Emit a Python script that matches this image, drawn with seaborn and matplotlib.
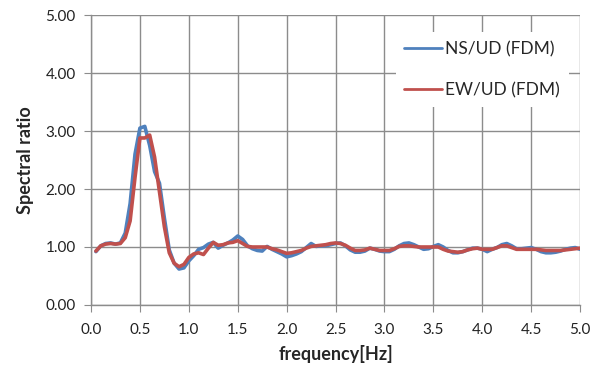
import pandas as pd
import seaborn as sns
import matplotlib.pyplot as plt

freq = [0.05, 0.10, 0.15, 0.20, 0.25, 0.30, 0.35, 0.40, 0.45, 0.50,
        0.55, 0.60, 0.65, 0.70, 0.75, 0.80, 0.85, 0.90, 0.95, 1.00,
        1.05, 1.10, 1.15, 1.20, 1.25, 1.30, 1.35, 1.40, 1.45, 1.50,
        1.55, 1.60, 1.65, 1.70, 1.75, 1.80, 1.85, 1.90, 1.95, 2.00,
        2.05, 2.10, 2.15, 2.20, 2.25, 2.30, 2.35, 2.40, 2.45, 2.50,
        2.55, 2.60, 2.65, 2.70, 2.75, 2.80, 2.85, 2.90, 2.95, 3.00,
        3.05, 3.10, 3.15, 3.20, 3.25, 3.30, 3.35, 3.40, 3.45, 3.50,
        3.55, 3.60, 3.65, 3.70, 3.75, 3.80, 3.85, 3.90, 3.95, 4.00,
        4.05, 4.10, 4.15, 4.20, 4.25, 4.30, 4.35, 4.40, 4.45, 4.50,
        4.55, 4.60, 4.65, 4.70, 4.75, 4.80, 4.85, 4.90, 4.95, 5.00]

ns_ud = [0.92, 1.02, 1.06, 1.07, 1.05, 1.07, 1.24, 1.75, 2.60, 3.05,
         3.08, 2.75, 2.30, 2.10, 1.50, 0.95, 0.72, 0.62, 0.64, 0.76,
         0.85, 0.96, 0.99, 1.05, 1.08, 0.98, 1.03, 1.07, 1.12, 1.19,
         1.13, 1.02, 0.97, 0.94, 0.93, 1.01, 0.96, 0.92, 0.88, 0.83,
         0.85, 0.88, 0.92, 0.99, 1.06, 1.01, 1.02, 1.02, 1.04, 1.06,
         1.07, 1.02, 0.95, 0.91, 0.91, 0.93, 0.98, 0.96, 0.93, 0.92,
         0.92, 0.96, 1.02, 1.06, 1.07, 1.04, 1.00, 0.96, 0.97, 1.01,
         1.04, 1.00, 0.94, 0.90, 0.90, 0.92, 0.95, 0.98, 0.98, 0.96,
         0.92, 0.96, 0.99, 1.04, 1.06, 1.02, 0.97, 0.97, 0.98, 0.99,
         0.96, 0.92, 0.90, 0.90, 0.91, 0.93, 0.96, 0.98, 0.99, 0.96]

ew_ud = [0.93, 1.02, 1.05, 1.06, 1.05, 1.06, 1.16, 1.45, 2.20, 2.88,
         2.88, 2.93, 2.55, 1.95, 1.35, 0.90, 0.72, 0.66, 0.70, 0.82,
         0.88, 0.90, 0.87, 0.98, 1.08, 1.03, 1.04, 1.07, 1.08, 1.11,
         1.06, 1.01, 1.00, 1.00, 1.00, 1.00, 0.97, 0.95, 0.92, 0.89,
         0.90, 0.92, 0.94, 0.98, 1.01, 1.02, 1.03, 1.04, 1.06, 1.07,
         1.06, 1.03, 0.98, 0.94, 0.94, 0.95, 0.98, 0.96, 0.94, 0.94,
         0.94, 0.97, 1.01, 1.02, 1.02, 1.01, 1.00, 1.00, 1.00, 1.00,
         1.00, 0.96, 0.93, 0.92, 0.91, 0.92, 0.95, 0.97, 0.98, 0.96,
         0.96, 0.96, 0.99, 1.02, 1.02, 0.99, 0.96, 0.96, 0.96, 0.96,
         0.96, 0.95, 0.94, 0.94, 0.94, 0.94, 0.95, 0.96, 0.97, 0.98]

labels = ["NS/UD (FDM)", "EW/UD (FDM)"]
colors = ["#4F81BD", "#C0504D"]

df = pd.DataFrame({
    "frequency": freq * 2,
    "ratio": ns_ud + ew_ud,
    "series": [labels[0]] * len(freq) + [labels[1]] * len(freq),
})

sns.set_style("white")
plt.rcParams["font.family"] = ["Lato", "DejaVu Sans"]

fig = plt.figure(figsize=(5.92, 3.67), dpi=100)
ax = fig.add_axes([0.1537, 0.169, 0.8263, 0.790])

sns.lineplot(data=df, x="frequency", y="ratio", hue="series",
             palette=colors, linewidth=2.6, ax=ax, legend=True)

ax.set_xlim(0, 5)
ax.set_ylim(0, 5)
ax.set_xticks([0.5 * i for i in range(11)])
ax.set_xticklabels(["%.1f" % (0.5 * i) for i in range(11)], fontsize=11)
ax.set_yticks(range(6))
ax.set_yticklabels(["%.2f" % i for i in range(6)], fontsize=11)
ax.grid(True, color="#8c8c8c", linewidth=1)
ax.set_axisbelow(True)

for s in ["top", "right"]:
    ax.spines[s].set_visible(False)
for s in ["left", "bottom"]:
    ax.spines[s].set_color("#8c8c8c")
    ax.spines[s].set_linewidth(1)
ax.tick_params(axis="both", direction="out", length=5, color="#8c8c8c",
               left=True, bottom=True, pad=8, labelcolor="#222222")
ax.tick_params(axis="y", pad=6)

ax.set_xlabel("frequency[Hz]", fontsize=13, fontweight="bold", labelpad=6)
ax.set_ylabel("Spectral ratio", fontsize=13, fontweight="bold", labelpad=8)

leg = ax.legend(loc="upper left", bbox_to_anchor=(0.605, 0.97), frameon=True,
                facecolor="white", edgecolor="none", framealpha=1,
                fontsize=12.5, handlelength=2.2, handletextpad=0.15,
                labelspacing=1.45, borderpad=0.5)
for line in leg.get_lines():
    line.set_linewidth(2)

fig.savefig("out.png", dpi=100)
